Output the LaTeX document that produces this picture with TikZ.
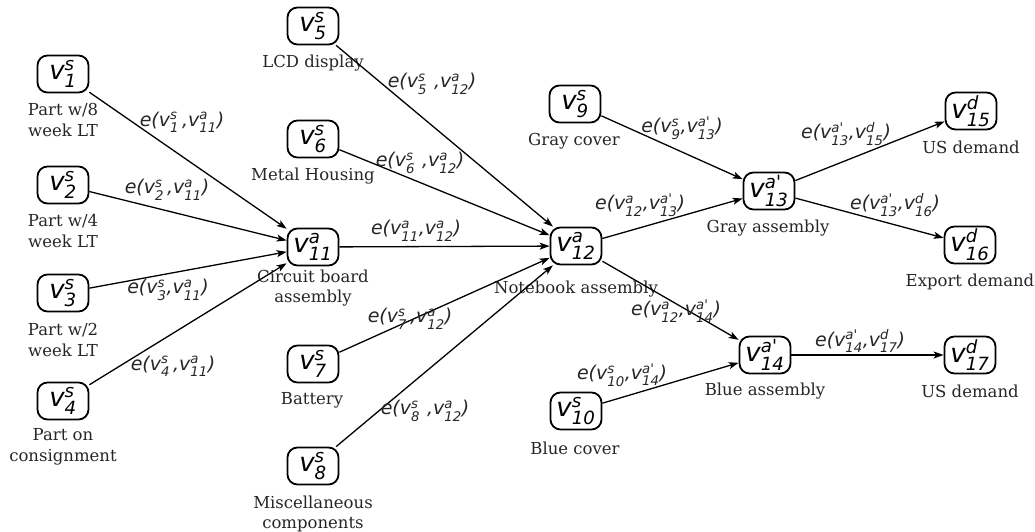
\documentclass[tikz,border=0pt]{standalone}
\usepackage{amsmath}
\usepackage{fontspec}
\setmainfont{DejaVu Serif}
\newfontfamily\obl{DejaVu Sans Oblique}
\usetikzlibrary{arrows.meta}
% vertex symbol v with subscript #1 and superscript #2
\newcommand\vx[2]{\ensuremath{\text{\obl v}^{\text{\obl #2}}_{\text{\obl #1}}}}
% edge label e(v_#1^#2, v_#3^#4); #5 is extra space before the comma
\newcommand\edg[5]{{\obl e(}\vx{#1}{#2}\hspace{#5}{\obl ,}\vx{#3}{#4}{\obl )}}
\tikzset{
  vbox/.style={draw, line width=1.8pt, rounded corners=10pt, minimum width=51pt,
    minimum height=37pt, inner sep=1pt, font=\fontsize{26}{28}\selectfont},
  captext/.style={font=\fontsize{16.5}{20.5}\selectfont, align=center, inner sep=0pt, text=black!85},
  elab/.style={font=\obl\fontsize{19}{21}\selectfont, inner sep=0pt, text=black!85},
  conn/.style={line width=1.3pt, -{Stealth[length=10pt,width=7pt,inset=2.5pt]}}
}
\begin{document}
\begin{tikzpicture}[x=1pt,y=-1pt]
\useasboundingbox (0,0) rectangle (1035,532);

% vertices
\node[vbox] (v1)  at (63,74)   {\vx{1}{s}};
\node[vbox] (v2)  at (63,185)  {\vx{2}{s}};
\node[vbox] (v3)  at (63,293)  {\vx{3}{s}};
\node[vbox] (v4)  at (63,401)  {\vx{4}{s}};
\node[vbox] (v5)  at (313,26)  {\vx{5}{s}};
\node[vbox] (v6)  at (313,139) {\vx{6}{s}};
\node[vbox] (v11) at (313,247) {\vx{11}{a}};
\node[vbox] (v7)  at (313,364) {\vx{7}{s}};
\node[vbox] (v8)  at (313,466) {\vx{8}{s}};
\node[vbox] (v9)  at (575,104) {\vx{9}{s}};
\node[vbox] (v12) at (576,246) {\vx{12}{a}};
\node[vbox] (v10) at (576,411) {\vx{10}{s}};
\node[vbox] (v13) at (769,191) {\vx{13}{a'}};
\node[vbox] (v14) at (765,355) {\vx{14}{a'}};
\node[vbox] (v15) at (971,111) {\vx{15}{d}};
\node[vbox] (v16) at (970,245) {\vx{16}{d}};
\node[vbox] (v17) at (970,355) {\vx{17}{d}};

% captions
\node[captext] (c1)  at (63,120)  {Part w/8\\week LT};
\node[captext] (c2)  at (63,231)  {Part w/4\\week LT};
\node[captext] (c3)  at (63,340)  {Part w/2\\week LT};
\node[captext] (c4)  at (63,447)  {Part on\\consignment};
\node[captext] (c5)  at (313,63)  {LCD display};
\node[captext] (c6)  at (313,176) {Metal Housing};
\node[captext] (c11) at (313,288) {Circuit board\\assembly};
\node[captext] (c7)  at (312,400) {Battery};
\node[captext] (c8)  at (313,514) {Miscellaneous\\components};
\node[captext] (c9)  at (574,141) {Gray cover};
\node[captext] (c12) at (576,289) {Notebook assembly};
\node[captext] (c10) at (575,448) {Blue cover};
\node[captext] (c13) at (768,228) {Gray assembly};
\node[captext] (c14) at (765,391) {Blue assembly};
\node[captext] (c15) at (971,147) {US demand};
\node[captext] (c16) at (970,282) {Export demand};
\node[captext] (c17) at (970,391) {US demand};

% connectors
\draw[conn] (v1) -- (v11);
\draw[conn] (v2) -- (v11);
\draw[conn] (v3) -- (v11);
\draw[conn] (v4) -- (v11);
\draw[conn] (v5) -- (v12);
\draw[conn] (v6) -- (v12);
\draw[conn] (v11) -- (v12);
\draw[conn] (v7) -- (v12);
\draw[conn] (v8) -- (v12);
\draw[conn] (v9) -- (v13);
\draw[conn] (v12) -- (v13);
\draw[conn] (v12) -- (v14);
\draw[conn] (v10) -- (v14);
\draw[conn] (v13) -- (v15);
\draw[conn] (v13) -- (v16);
\draw[conn] (v14) -- (v17);

% connector labels
\node[elab] (e1)  at (182,122) {\edg{1}{s}{11}{a}{3pt}};
\node[elab] (e2)  at (167,190) {\edg{2}{s}{11}{a}{3pt}};
\node[elab] (e3)  at (168,290) {\edg{3}{s}{11}{a}{0pt}};
\node[elab] (e4)  at (173,366) {\edg{4}{s}{11}{a}{3pt}};
\node[elab] (e5)  at (432,84)  {\edg{5}{s}{12}{a}{7pt}};
\node[elab] (e6)  at (420,163) {\edg{6}{s}{12}{a}{7pt}};
\node[elab] (e7)  at (410,319) {\edg{7}{s}{12}{a}{3pt}};
\node[elab] (e8)  at (425,411) {\edg{8}{s}{12}{a}{7pt}};
\node[elab] (e11) at (416,231) {\edg{11}{a}{12}{a}{0pt}};
\node[elab] (e9)  at (682,128) {\edg{9}{s}{13}{a'}{0pt}};
\node[elab] (e12) at (640,205) {\edg{12}{a}{13}{a'}{0pt}};
\node[elab] (e13) at (676,311) {\edg{12}{a}{14}{a'}{0pt}};
\node[elab] (e10) at (622,375) {\edg{10}{s}{14}{a'}{0pt}};
\node[elab] (e14) at (846,134) {\edg{13}{a'}{15}{d}{0pt}};
\node[elab] (e15) at (895,205) {\edg{13}{a'}{16}{d}{0pt}};
\node[elab] (e16) at (860,341) {\edg{14}{a'}{17}{d}{0pt}};
\end{tikzpicture}
\end{document}
